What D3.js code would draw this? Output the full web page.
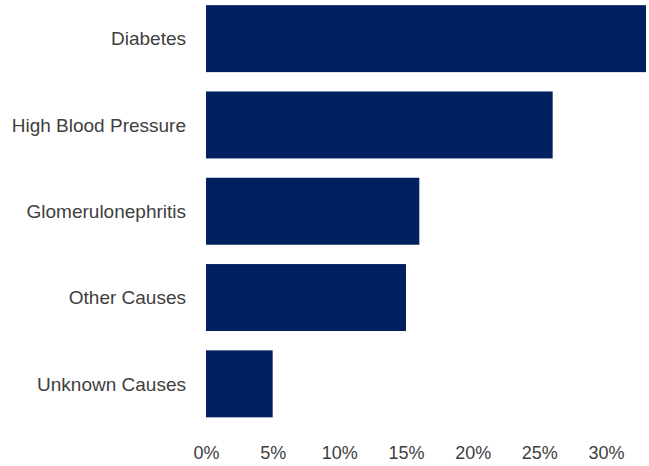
<!DOCTYPE html>
<html>
<head>
<meta charset="utf-8">
<script src="https://cdn.jsdelivr.net/npm/d3@7"></script>
<style>
  html, body { margin: 0; padding: 0; background: #fff; }
  svg { display: block; }
  text { font-family: "Liberation Sans", "Noto Sans", Arial, sans-serif; }
</style>
</head>
<body>
<svg id="chart" width="649" height="466"></svg>
<script>
// Leading causes of kidney failure (share of new cases, %)
const causes = ["Diabetes", "High Blood Pressure", "Glomerulonephritis", "Other Causes", "Unknown Causes"];
const shares = [33, 26, 16, 15, 5];
const tickValues = [0, 5, 10, 15, 20, 25, 30];

const svg = d3.select("#chart");
const textColor = "#404040";
const barColor = "#002060";

const x = d3.scaleLinear().domain([0, 33]).range([206, 646]);
const y = d3.scaleBand()
  .domain(causes)
  .range([-4.5, 427])
  .paddingInner(0.224)
  .paddingOuter(0.112);

const rows = causes.map((c, i) => ({ cause: c, value: shares[i] }));

// bars
svg.append("g")
  .selectAll("rect")
  .data(rows)
  .join("rect")
  .attr("x", x(0))
  .attr("y", d => y(d.cause))
  .attr("width", d => x(d.value) - x(0))
  .attr("height", y.bandwidth())
  .attr("fill", barColor);

// category axis
const yAxis = svg.append("g")
  .attr("transform", `translate(${x(0)},0)`)
  .call(d3.axisLeft(y).tickSize(0).tickPadding(20));
yAxis.select(".domain").remove();
yAxis.selectAll("text")
  .attr("fill", textColor)
  .attr("dy", "0.36em")
  .style("font-size", "19px");

// value axis
const xAxis = svg.append("g")
  .attr("transform", `translate(0,${438})`)
  .call(d3.axisBottom(x).tickValues(tickValues).tickSize(0).tickPadding(0)
    .tickFormat(d => d + "%"));
xAxis.select(".domain").remove();
xAxis.selectAll("text")
  .attr("fill", textColor)
  .attr("dy", "0")
  .attr("y", 21)
  .style("font-size", "18px");
</script>
</body>
</html>
